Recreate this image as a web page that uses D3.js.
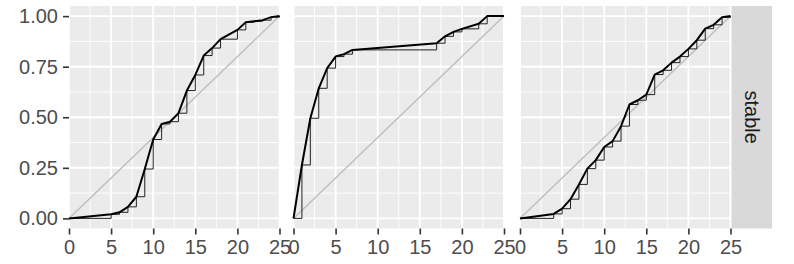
<!DOCTYPE html>
<html>
<head>
<meta charset="utf-8">
<script src="https://cdn.jsdelivr.net/npm/d3@7"></script>
<style>
  body { margin: 0; background: #fff; }
  svg text { font-family: "Liberation Sans", Arial, sans-serif; }
</style>
</head>
<body>
<div class="canvas"></div>
<script>
// ecdf points for each facet (x = day, y = cumulative share)
const panel1X = [0, 5, 6, 7, 8, 9, 10, 11, 12, 13, 14, 15, 16, 17, 18, 20, 21, 22, 23, 24, 25]
const panel1Y = [0, 0.02, 0.03, 0.057, 0.107, 0.244, 0.39, 0.467, 0.478, 0.52, 0.632, 0.709, 0.805, 0.842, 0.886, 0.932, 0.97, 0.975, 0.98, 0.995, 1]

const panel2X = [0, 1, 2, 3, 4, 5, 6, 7, 17, 18, 19, 20, 22, 23, 25]
const panel2Y = [0, 0.264, 0.495, 0.643, 0.743, 0.8, 0.812, 0.833, 0.866, 0.9, 0.922, 0.937, 0.962, 1, 1]

const panel3X = [0, 4, 5, 6, 7, 8, 9, 10, 11, 12, 13, 14, 15, 16, 17, 18, 19, 20, 21, 22, 23, 24, 25]
const panel3Y = [0, 0.022, 0.048, 0.095, 0.168, 0.246, 0.288, 0.353, 0.382, 0.456, 0.563, 0.584, 0.612, 0.711, 0.732, 0.77, 0.8, 0.838, 0.881, 0.938, 0.957, 0.994, 1]

const xTicks = [0, 5, 10, 15, 20, 25]
const xMinor = [2.5, 7.5, 12.5, 17.5, 22.5]
const yTicks = [0, 0.25, 0.5, 0.75, 1]
const yMinor = [0.125, 0.375, 0.625, 0.875]
const stripLabel = 'stable'

const panels = [
  { xs: panel1X, ys: panel1Y, left: 69 },
  { xs: panel2X, ys: panel2Y, left: 293.5 },
  { xs: panel3X, ys: panel3Y, left: 520 }
]

const panelW = 210.5
const panelTop = 6
const panelBottom = 228.5

const svg = d3.select('.canvas').append('svg')
    .attr('width', 794)
    .attr('height', 264)

const y = d3.scaleLinear()
    .domain([-0.05, 1.05])
    .range([panelBottom, panelTop])

panels.forEach((p, i) => {
  const x = d3.scaleLinear()
      .domain([0, 25])
      .range([p.left, p.left + panelW])

  const g = svg.append('g')

  g.append('rect')
      .attr('x', p.left)
      .attr('y', panelTop)
      .attr('width', panelW)
      .attr('height', panelBottom - panelTop)
      .attr('fill', '#ebebeb')

  // minor grid
  g.selectAll('.xminor').data(xMinor).enter().append('line')
      .attr('x1', d => x(d)).attr('x2', d => x(d))
      .attr('y1', panelTop).attr('y2', panelBottom)
      .attr('stroke', '#fff').attr('stroke-width', 0.9)
  g.selectAll('.yminor').data(yMinor).enter().append('line')
      .attr('x1', p.left).attr('x2', p.left + panelW)
      .attr('y1', d => y(d)).attr('y2', d => y(d))
      .attr('stroke', '#fff').attr('stroke-width', 0.9)

  // major grid
  g.selectAll('.xmajor').data(xTicks).enter().append('line')
      .attr('x1', d => x(d)).attr('x2', d => x(d))
      .attr('y1', panelTop).attr('y2', panelBottom)
      .attr('stroke', '#fff').attr('stroke-width', 1.9)
  g.selectAll('.ymajor').data(yTicks).enter().append('line')
      .attr('x1', p.left).attr('x2', p.left + panelW)
      .attr('y1', d => y(d)).attr('y2', d => y(d))
      .attr('stroke', '#fff').attr('stroke-width', 1.9)

  // reference diagonal
  g.append('line')
      .attr('x1', x(0)).attr('y1', y(0))
      .attr('x2', x(25)).attr('y2', y(1))
      .attr('stroke', '#bebebe')
      .attr('stroke-width', 1.4)

  const pts = p.xs.map((v, k) => [v, p.ys[k]])

  const step = d3.line()
      .x(d => x(d[0]))
      .y(d => y(d[1]))
      .curve(d3.curveStepAfter)

  g.append('path')
      .attr('d', step(pts))
      .attr('fill', 'none')
      .attr('stroke', '#222')
      .attr('stroke-width', 1)

  const line = d3.line()
      .x(d => x(d[0]))
      .y(d => y(d[1]))

  g.append('path')
      .attr('d', line(pts))
      .attr('fill', 'none')
      .attr('stroke', '#000')
      .attr('stroke-width', 2)
      .attr('stroke-linejoin', 'round')

  // x axis
  const xAxis = svg.append('g')
      .attr('transform', `translate(0,${panelBottom})`)
      .call(d3.axisBottom(x).tickValues(xTicks).tickSize(6).tickPadding(5))
  xAxis.select('.domain').remove()
  xAxis.selectAll('line').attr('stroke', '#333').attr('stroke-width', 1.6)
  xAxis.selectAll('text')
      .attr('fill', '#4d4d4d')
      .style('font-size', '20px')

  // y axis only on the first panel
  if (i === 0) {
    const yAxis = svg.append('g')
        .attr('transform', `translate(${p.left},0)`)
        .call(d3.axisLeft(y).tickValues(yTicks).tickSize(6).tickPadding(5).tickFormat(d3.format('.2f')))
    yAxis.select('.domain').remove()
    yAxis.selectAll('line').attr('stroke', '#333').attr('stroke-width', 1.6)
    yAxis.selectAll('text')
        .attr('fill', '#4d4d4d')
        .style('font-size', '20px')
  }
})

// facet strip on the right
const stripX = 731.5
svg.append('rect')
    .attr('x', stripX)
    .attr('y', panelTop)
    .attr('width', 40.5)
    .attr('height', panelBottom - panelTop)
    .attr('fill', '#d9d9d9')

svg.append('text')
    .attr('transform', `translate(${stripX + 20.25},${(panelTop + panelBottom) / 2}) rotate(90)`)
    .attr('text-anchor', 'middle')
    .attr('dy', '0.35em')
    .attr('fill', '#1a1a1a')
    .style('font-size', '20px')
    .text(stripLabel)
</script>
</body>
</html>
